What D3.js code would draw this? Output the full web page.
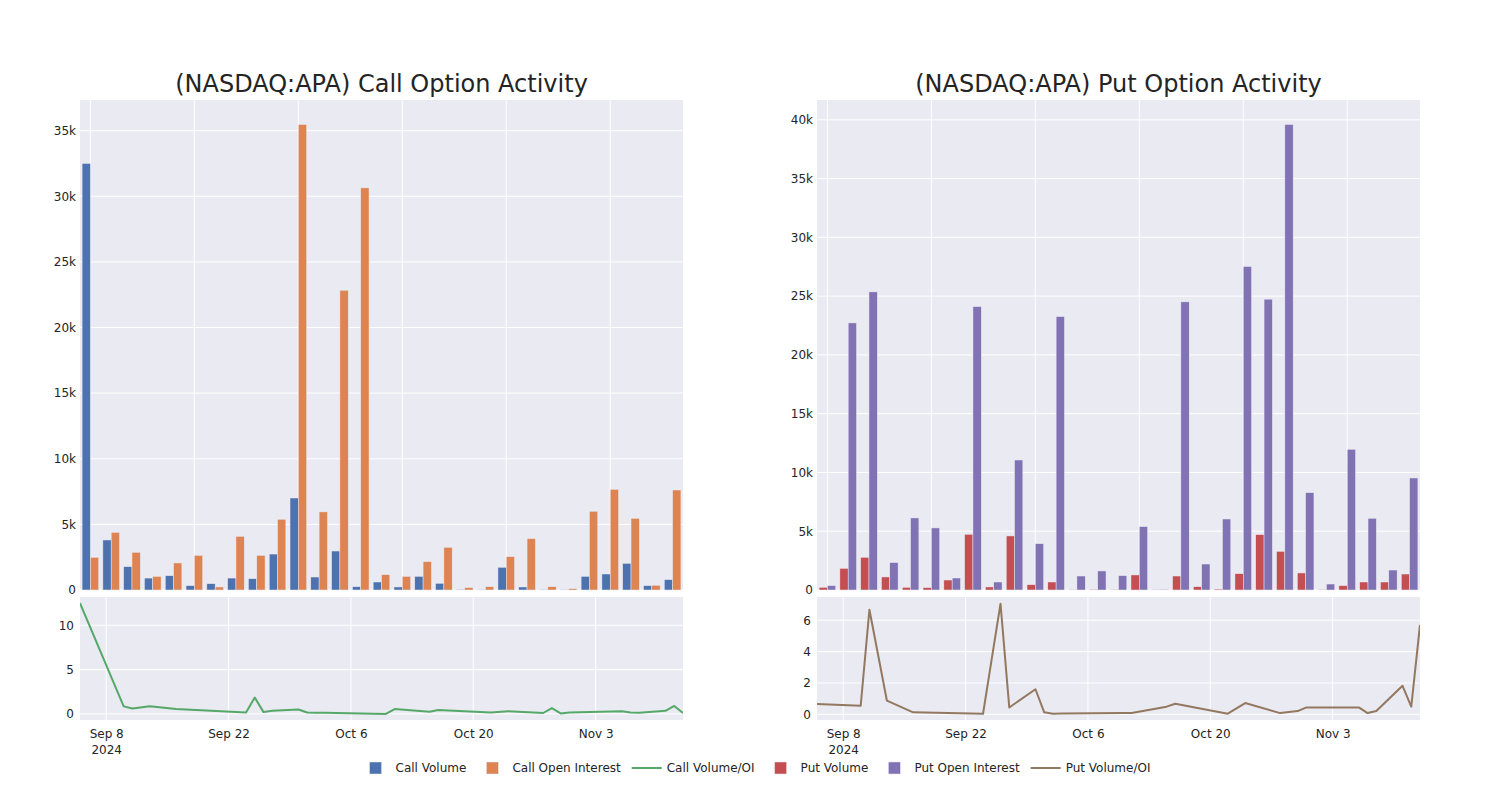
<!DOCTYPE html>
<html>
<head>
<meta charset="utf-8">
<script src="https://cdn.jsdelivr.net/npm/d3@7"></script>
<style>
  html, body { margin: 0; padding: 0; background: #ffffff; }
  svg { display: block; font-family: "DejaVu Sans", Verdana, sans-serif; }
</style>
</head>
<body>
<svg id="chart" width="1500" height="800"></svg>
<script>
// ---------- data ----------
const dates = ["2024-09-05","2024-09-10","2024-09-11","2024-09-13","2024-09-16","2024-09-24","2024-09-25",
  "2024-09-26","2024-09-27","2024-09-30","2024-10-01","2024-10-02","2024-10-03","2024-10-10","2024-10-11",
  "2024-10-15","2024-10-16","2024-10-22","2024-10-24","2024-10-28","2024-10-29","2024-10-30","2024-10-31",
  "2024-11-06","2024-11-07","2024-11-08","2024-11-11","2024-11-12","2024-11-13"];
const callVolume = [32500, 3810, 1780, 910, 1090, 330, 480, 910, 860, 2740, 7010, 990, 2970, 250, 610,
  230, 1040, 510, 50, 25, 1730, 230, 30, 30, 1040, 1220, 2030, 330, 790];
const callOpenInterest = [2490, 4390, 2870, 1040, 2060, 2640, 230, 4090, 2640, 5390, 35470, 5950, 22840, 30640, 1170,
  1040, 2160, 3250, 180, 250, 2540, 3910, 250, 100, 6000, 7670, 5460, 360, 7620];
const callVolumeOI = [12.5, 0.85, 0.6, 0.85, 0.55, 0.15, 1.85, 0.2, 0.35, 0.5, 0.15, 0.13, 0.12, 0.0, 0.55,
  0.25, 0.45, 0.15, 0.3, 0.1, 0.65, 0.05, 0.15, 0.3, 0.15, 0.12, 0.35, 0.9, 0.1];
const putVolume = [230, 1840, 2780, 1110, 230, 200, 850, 4740, 260, 4600, 450, 680, 30, 60, 20,
  1280, 30, 1190, 280, 80, 1390, 4710, 3290, 1450, 20, 370, 680, 680, 1360];
const putOpenInterest = [370, 22720, 25360, 2330, 6130, 5280, 1020, 24110, 680, 11060, 3940, 23260, 1190, 1620, 1220,
  5390, 60, 24510, 2210, 6040, 27520, 24740, 39600, 8280, 510, 11970, 6100, 1700, 9530];
const putVolumeOI = [0.66, 0.55, 6.67, 0.87, 0.13, 0.04, 3.55, 7.05, 0.44, 1.6, 0.13, 0.04, 0.05, 0.08, 0.08,
  0.49, 0.68, 0.04, 0.72, 0.08, 0.15, 0.21, 0.44, 0.44, 0.08, 0.21, 1.82, 0.49, 5.7];
const callTicks = [0, 5000, 10000, 15000, 20000, 25000, 30000, 35000];
const putTicks = [0, 5000, 10000, 15000, 20000, 25000, 30000, 35000, 40000];
const callRatioTicks = [0, 5, 10];
const putRatioTicks = [0, 2, 4, 6];
const dateTicks = ["2024-09-08", "2024-09-22", "2024-10-06", "2024-10-20", "2024-11-03"];
const titles = ["(NASDAQ:APA) Call Option Activity", "(NASDAQ:APA) Put Option Activity"];
const legendNames = ["Call Volume", "Call Open Interest", "Call Volume/OI", "Put Volume", "Put Open Interest", "Put Volume/OI"];

// ---------- style ----------
const C = { blue: "#4C72B0", orange: "#DD8452", green: "#55A868", red: "#C44E52", purple: "#8172B3", brown: "#937860" };
const BG = "#EAEAF2", TXT = "rgb(36,36,36)";

const svg = d3.select("#chart");
const parse = d3.utcParse("%Y-%m-%d");
const dateVals = dates.map(parse);
const fmtK = v => v === 0 ? "0" : (v / 1000) + "k";

function panel(opts) {
  const { x0, x1, title, vol, oi, ratio, colVol, colOI, colLine, barMax, barTicks, ratioDomain, ratioTicks } = opts;
  const top0 = 100, top1 = 590, bot0 = 597, bot1 = 720;
  const g = svg.append("g");

  g.append("rect").attr("x", x0).attr("y", top0).attr("width", x1 - x0).attr("height", top1 - top0).attr("fill", BG);
  g.append("rect").attr("x", x0).attr("y", bot0).attr("width", x1 - x0).attr("height", bot1 - bot0).attr("fill", BG);

  // ---- top bar chart ----
  const xb = d3.scaleBand().domain(d3.range(dates.length)).range([x0, x1]).paddingInner(0.2).paddingOuter(0.1);
  const xin = d3.scaleBand().domain([0, 1]).range([0, xb.bandwidth()]);
  const yb = d3.scaleLinear().domain([0, barMax]).range([top1, top0]);

  const gridTop = g.append("g");
  barTicks.forEach(t => {
    gridTop.append("line").attr("x1", x0).attr("x2", x1).attr("y1", yb(t)).attr("y2", yb(t))
      .attr("stroke", "#fff").attr("stroke-width", 1);
  });
  d3.range(0, dates.length, 5).forEach(i => {
    const cx = xb(i) + xb.bandwidth() / 2;
    gridTop.append("line").attr("x1", cx).attr("x2", cx).attr("y1", top0).attr("y2", top1)
      .attr("stroke", "#fff").attr("stroke-width", 1);
  });
  const yAxisTop = d3.axisLeft(yb).tickValues(barTicks).tickFormat(fmtK).tickSize(0).tickPadding(3);
  g.append("g").attr("transform", `translate(${x0 - 1},0)`).call(yAxisTop)
    .call(s => s.select(".domain").remove())
    .selectAll("text").attr("font-size", 12).attr("fill", TXT).attr("font-family", "DejaVu Sans");

  const bars = g.append("g");
  [[vol, colVol, 0], [oi, colOI, 1]].forEach(([arr, col, k]) => {
    bars.selectAll(null).data(arr).enter().append("rect")
      .attr("x", (d, i) => xb(i) + xin(k))
      .attr("width", xin.bandwidth())
      .attr("y", d => yb(d))
      .attr("height", d => top1 - yb(d))
      .attr("fill", col)
      .attr("stroke", BG).attr("stroke-width", 0.5);
  });

  g.append("text").attr("x", (x0 + x1) / 2).attr("y", 92).attr("text-anchor", "middle")
    .attr("font-size", 24).attr("fill", TXT).text(title);

  // ---- bottom line chart ----
  const xd = d3.scaleUtc().domain(d3.extent(dateVals)).range([x0, x1]);
  const yr = d3.scaleLinear().domain(ratioDomain).range([bot1, bot0]);
  const tickDates = dateTicks.map(parse);
  const gridBot = g.append("g");
  ratioTicks.forEach(t => {
    gridBot.append("line").attr("x1", x0).attr("x2", x1).attr("y1", yr(t)).attr("y2", yr(t))
      .attr("stroke", "#fff").attr("stroke-width", 1);
  });
  tickDates.forEach(d => {
    gridBot.append("line").attr("x1", xd(d)).attr("x2", xd(d)).attr("y1", bot0).attr("y2", bot1)
      .attr("stroke", "#fff").attr("stroke-width", 1);
  });
  g.append("g").attr("transform", `translate(${x0 - 1},0)`)
    .call(d3.axisLeft(yr).tickValues(ratioTicks).tickSize(0).tickPadding(5))
    .call(s => s.select(".domain").remove())
    .selectAll("text").attr("font-size", 12).attr("fill", TXT).attr("font-family", "DejaVu Sans");

  const fmtD = d3.utcFormat("%b %-d");
  const xAx = g.append("g").attr("transform", `translate(0,${bot1})`)
    .call(d3.axisBottom(xd).tickValues(tickDates).tickFormat(fmtD).tickSize(0).tickPadding(9));
  xAx.select(".domain").remove();
  xAx.selectAll("text").attr("font-size", 12).attr("fill", TXT).attr("font-family", "DejaVu Sans");
  xAx.selectAll(".tick").filter((d, i) => i === 0).append("text")
    .attr("y", 25).attr("dy", "0.71em").attr("text-anchor", "middle")
    .attr("font-size", 12).attr("fill", TXT).attr("font-family", "DejaVu Sans").text("2024");

  g.append("defs").append("clipPath").attr("id", "clip" + x0)
    .append("rect").attr("x", x0).attr("y", bot0).attr("width", x1 - x0).attr("height", bot1 - bot0);
  const line = d3.line().x((d, i) => xd(dateVals[i])).y(d => yr(d));
  g.append("path").datum(ratio).attr("d", line).attr("fill", "none")
    .attr("stroke", colLine).attr("stroke-width", 2).attr("stroke-linejoin", "round")
    .attr("clip-path", `url(#clip${x0})`);
}

panel({ x0: 80, x1: 683, title: titles[0], vol: callVolume, oi: callOpenInterest, ratio: callVolumeOI,
  colVol: C.blue, colOI: C.orange, colLine: C.green, barMax: 35470 * 1.0526, barTicks: callTicks,
  ratioDomain: [-0.69, 13.19], ratioTicks: callRatioTicks });
panel({ x0: 817, x1: 1420, title: titles[1], vol: putVolume, oi: putOpenInterest, ratio: putVolumeOI,
  colVol: C.red, colOI: C.purple, colLine: C.brown, barMax: 39600 * 1.0526, barTicks: putTicks,
  ratioDomain: [-0.36, 7.48], ratioTicks: putRatioTicks });

// ---------- legend ----------
const legendItems = [
  { name: legendNames[0], color: C.blue, type: "bar" },
  { name: legendNames[1], color: C.orange, type: "bar" },
  { name: legendNames[2], color: C.green, type: "line" },
  { name: legendNames[3], color: C.red, type: "bar" },
  { name: legendNames[4], color: C.purple, type: "bar" },
  { name: legendNames[5], color: C.brown, type: "line" }
];
const lg = svg.append("g");
let cx = 0;
const ly = 768;
legendItems.forEach(it => {
  const gi = lg.append("g").attr("transform", `translate(${cx},0)`);
  if (it.type === "bar") {
    gi.append("rect").attr("x", 14).attr("y", ly - 6).attr("width", 12).attr("height", 12)
      .attr("fill", it.color).attr("stroke", BG).attr("stroke-width", 0.5);
  } else {
    gi.append("line").attr("x1", 5).attr("x2", 35).attr("y1", ly).attr("y2", ly)
      .attr("stroke", it.color).attr("stroke-width", 2);
  }
  const t = gi.append("text").attr("x", 40).attr("y", ly).attr("dy", "0.35em")
    .attr("font-size", 12).attr("fill", TXT).text(it.name);
  const w = t.node().getComputedTextLength();
  cx += 40 + w + 6;
});
const total = cx - 6;
lg.attr("transform", `translate(${753 - total / 2},0)`);
</script>
</body>
</html>
